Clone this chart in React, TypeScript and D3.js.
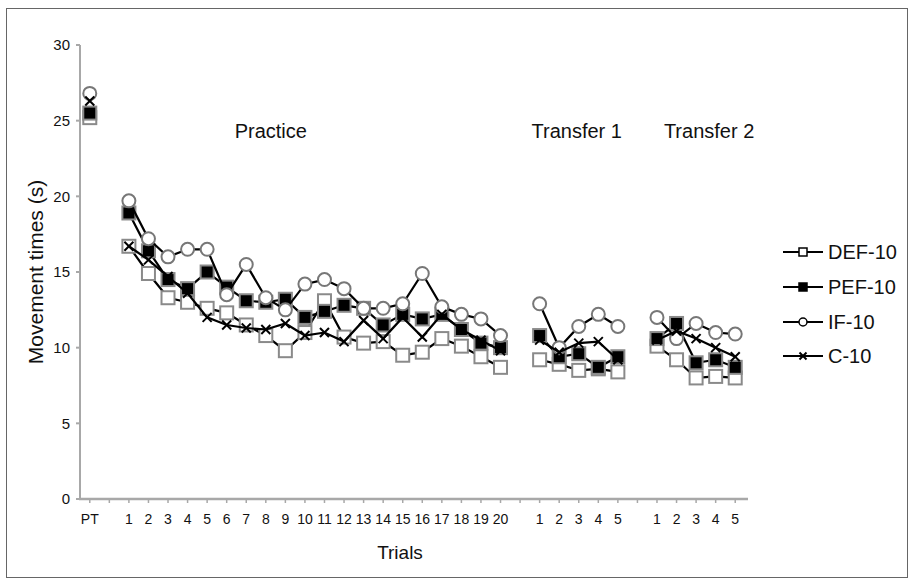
import React from "react";
import * as d3 from "d3";

const slots = ["PT", "g1", "P1","P2","P3","P4","P5","P6","P7","P8","P9","P10","P11","P12","P13","P14","P15","P16","P17","P18","P19","P20", "g2", "A1","A2","A3","A4","A5", "g3", "B1","B2","B3","B4","B5"];
const slotLabels = ["PT", "", "1","2","3","4","5","6","7","8","9","10","11","12","13","14","15","16","17","18","19","20", "", "1","2","3","4","5", "", "1","2","3","4","5"];
const yTicks = [0, 5, 10, 15, 20, 25, 30];
const groupNames = ["Practice", "Transfer 1", "Transfer 2"];

const seriesNames = ["DEF-10", "PEF-10", "IF-10", "C-10"];
const defPT = 25.2;
const defPractice = [16.7, 14.9, 13.3, 13.0, 12.6, 12.3, 11.5, 10.8, 9.8, 11.0, 13.1, 10.7, 10.3, 10.4, 9.5, 9.7, 10.6, 10.1, 9.4, 8.7];
const defT1 = [9.2, 8.9, 8.5, 8.6, 8.4];
const defT2 = [10.1, 9.2, 8.0, 8.1, 8.0];

const pefPT = 25.5;
const pefPractice = [18.9, 16.4, 14.5, 13.9, 15.0, 14.0, 13.1, 13.0, 13.2, 12.0, 12.4, 12.8, 12.6, 11.5, 12.2, 11.9, 12.2, 11.2, 10.3, 10.0];
const pefT1 = [10.8, 9.4, 9.6, 8.7, 9.4];
const pefT2 = [10.6, 11.6, 9.0, 9.2, 8.7];

const ifPT = 26.8;
const ifPractice = [19.7, 17.2, 16.0, 16.5, 16.5, 13.5, 15.5, 13.3, 12.5, 14.2, 14.5, 13.9, 12.6, 12.6, 12.9, 14.9, 12.7, 12.2, 11.9, 10.8];
const ifT1 = [12.9, 10.0, 11.4, 12.2, 11.4];
const ifT2 = [12.0, 10.6, 11.6, 11.0, 10.9];

const cPT = 26.3;
const cPractice = [16.7, 15.8, 14.7, 13.6, 12.0, 11.5, 11.3, 11.2, 11.6, 10.8, 11.0, 10.4, 11.8, 10.6, 12.0, 10.7, 12.2, 11.2, 10.5, 9.8];
const cT1 = [10.5, 9.7, 10.3, 10.4, 9.2];
const cT2 = [10.5, 11.1, 10.6, 10.0, 9.4];

const seriesData = [
  [defPT, defPractice, defT1, defT2],
  [pefPT, pefPractice, pefT1, pefT2],
  [ifPT, ifPractice, ifT1, ifT2],
  [cPT, cPractice, cT1, cT2],
] as const;

const markerKinds = ["openSquare", "filledSquare", "openCircle", "cross"];

const W = 915, H = 584;
const left = 80, right = 745, top = 45, bottom = 499;
const FONT = "'Liberation Sans', Arial, Helvetica, sans-serif";

function Marker({ kind, x, y, s, legend }: { kind: string; x: number; y: number; s: number; legend?: boolean }) {
  const stroke = legend ? "#000" : "#8a8a8a";
  const sw = legend ? 1.5 : 2;
  if (kind === "openSquare" || kind === "filledSquare") {
    return <rect x={x - s / 2} y={y - s / 2} width={s} height={s} fill={kind === "filledSquare" ? "#000" : "#fff"} stroke={stroke} strokeWidth={sw} />;
  }
  if (kind === "openCircle") {
    return <circle cx={x} cy={y} r={s / 2} fill="#fff" stroke={legend ? "#000" : "#777"} strokeWidth={sw} />;
  }
  const h = s / 2 - 1;
  return (
    <g stroke="#000" strokeWidth={2}>
      <line x1={x - h} y1={y - h} x2={x + h} y2={y + h} />
      <line x1={x - h} y1={y + h} x2={x + h} y2={y - h} />
    </g>
  );
}

export default function App() {
  const x = d3.scaleBand<string>().domain(slots).range([left, right]).padding(0);
  const cx = (k: string) => (x(k) as number) + x.bandwidth() / 2;
  const y = d3.scaleLinear().domain([0, 30]).range([bottom, top]);
  const line = d3.line<[number, number]>().x((d) => d[0]).y((d) => d[1]);

  const groupsOf = (s: typeof seriesData[number]) => {
    const [pt, pr, t1, t2] = s;
    return [
      [[cx("PT"), y(pt)]] as [number, number][],
      (pr as readonly number[]).map((v, i) => [cx("P" + (i + 1)), y(v)] as [number, number]),
      (t1 as readonly number[]).map((v, i) => [cx("A" + (i + 1)), y(v)] as [number, number]),
      (t2 as readonly number[]).map((v, i) => [cx("B" + (i + 1)), y(v)] as [number, number]),
    ];
  };

  // label anchors, relative to the category scale
  const groupCenters = [
    cx("P8") + 5,
    (cx("A1") + cx("A5")) / 2 - 2,
    (cx("B2") + cx("B4")) / 2 + 13,
  ];

  const legendY = [252, 287, 322, 356];

  return (
    <svg width={W} height={H} style={{ position: "absolute", left: 0, top: 0 }} fontFamily={FONT}>
      <rect x={0} y={0} width={W} height={H} fill="#fff" />
      <rect x={6.5} y={8.5} width={901} height={569} fill="none" stroke="#666" strokeWidth={1} />

      {/* y axis */}
      <line x1={left} y1={top} x2={left} y2={bottom} stroke="#a8a8a8" strokeWidth={2} />
      {yTicks.map((t) => (
        <g key={t}>
          <line x1={left - 4} x2={left} y1={y(t)} y2={y(t)} stroke="#a8a8a8" strokeWidth={2} />
          <text x={left - 10} y={y(t)} dy="0.35em" textAnchor="end" fontSize={15} fill="#111">{t}</text>
        </g>
      ))}
      {/* x axis */}
      <line x1={left - 1} y1={bottom} x2={right + 3} y2={bottom} stroke="#a8a8a8" strokeWidth={2.5} />
      {slots.map((k, i) => (
        <g key={k}>
          <line x1={cx(k)} x2={cx(k)} y1={bottom} y2={bottom + 4} stroke="#a8a8a8" strokeWidth={1.5} />
          <text x={cx(k)} y={bottom + 25} textAnchor="middle" fontSize={14} fill="#111">{slotLabels[i]}</text>
        </g>
      ))}
      <text x={400} y={559} textAnchor="middle" fontSize={19} fill="#111">Trials</text>
      <text transform={`translate(43, ${(top + bottom) / 2}) rotate(-90)`} textAnchor="middle" fontSize={21} fill="#111">Movement times (s)</text>

      {groupNames.map((g, i) => (
        <text key={g} x={groupCenters[i]} y={138} textAnchor="middle" fontSize={20} fill="#111">{g}</text>
      ))}

      {seriesData.map((s, si) => {
        const groups = groupsOf(s);
        return (
          <g key={si}>
            {groups.map((pts, gi) => pts.length > 1 && (
              <path key={gi} d={line(pts) as string} fill="none" stroke="#000" strokeWidth={2.2} />
            ))}
            {groups.flat().map((p, pi) => (
              <Marker key={pi} kind={markerKinds[si]} x={p[0]} y={p[1]} s={markerKinds[si] === "cross" ? 11 : 13} />
            ))}
          </g>
        );
      })}

      {seriesNames.map((n, i) => (
        <g key={n}>
          <line x1={783} x2={823} y1={legendY[i]} y2={legendY[i]} stroke="#000" strokeWidth={2} />
          <Marker kind={markerKinds[i]} x={803} y={legendY[i]} s={markerKinds[i] === "cross" ? 9 : 8} legend />
          <text x={828} y={legendY[i]} dy="0.36em" fontSize={20} fill="#111">{n}</text>
        </g>
      ))}
    </svg>
  );
}
